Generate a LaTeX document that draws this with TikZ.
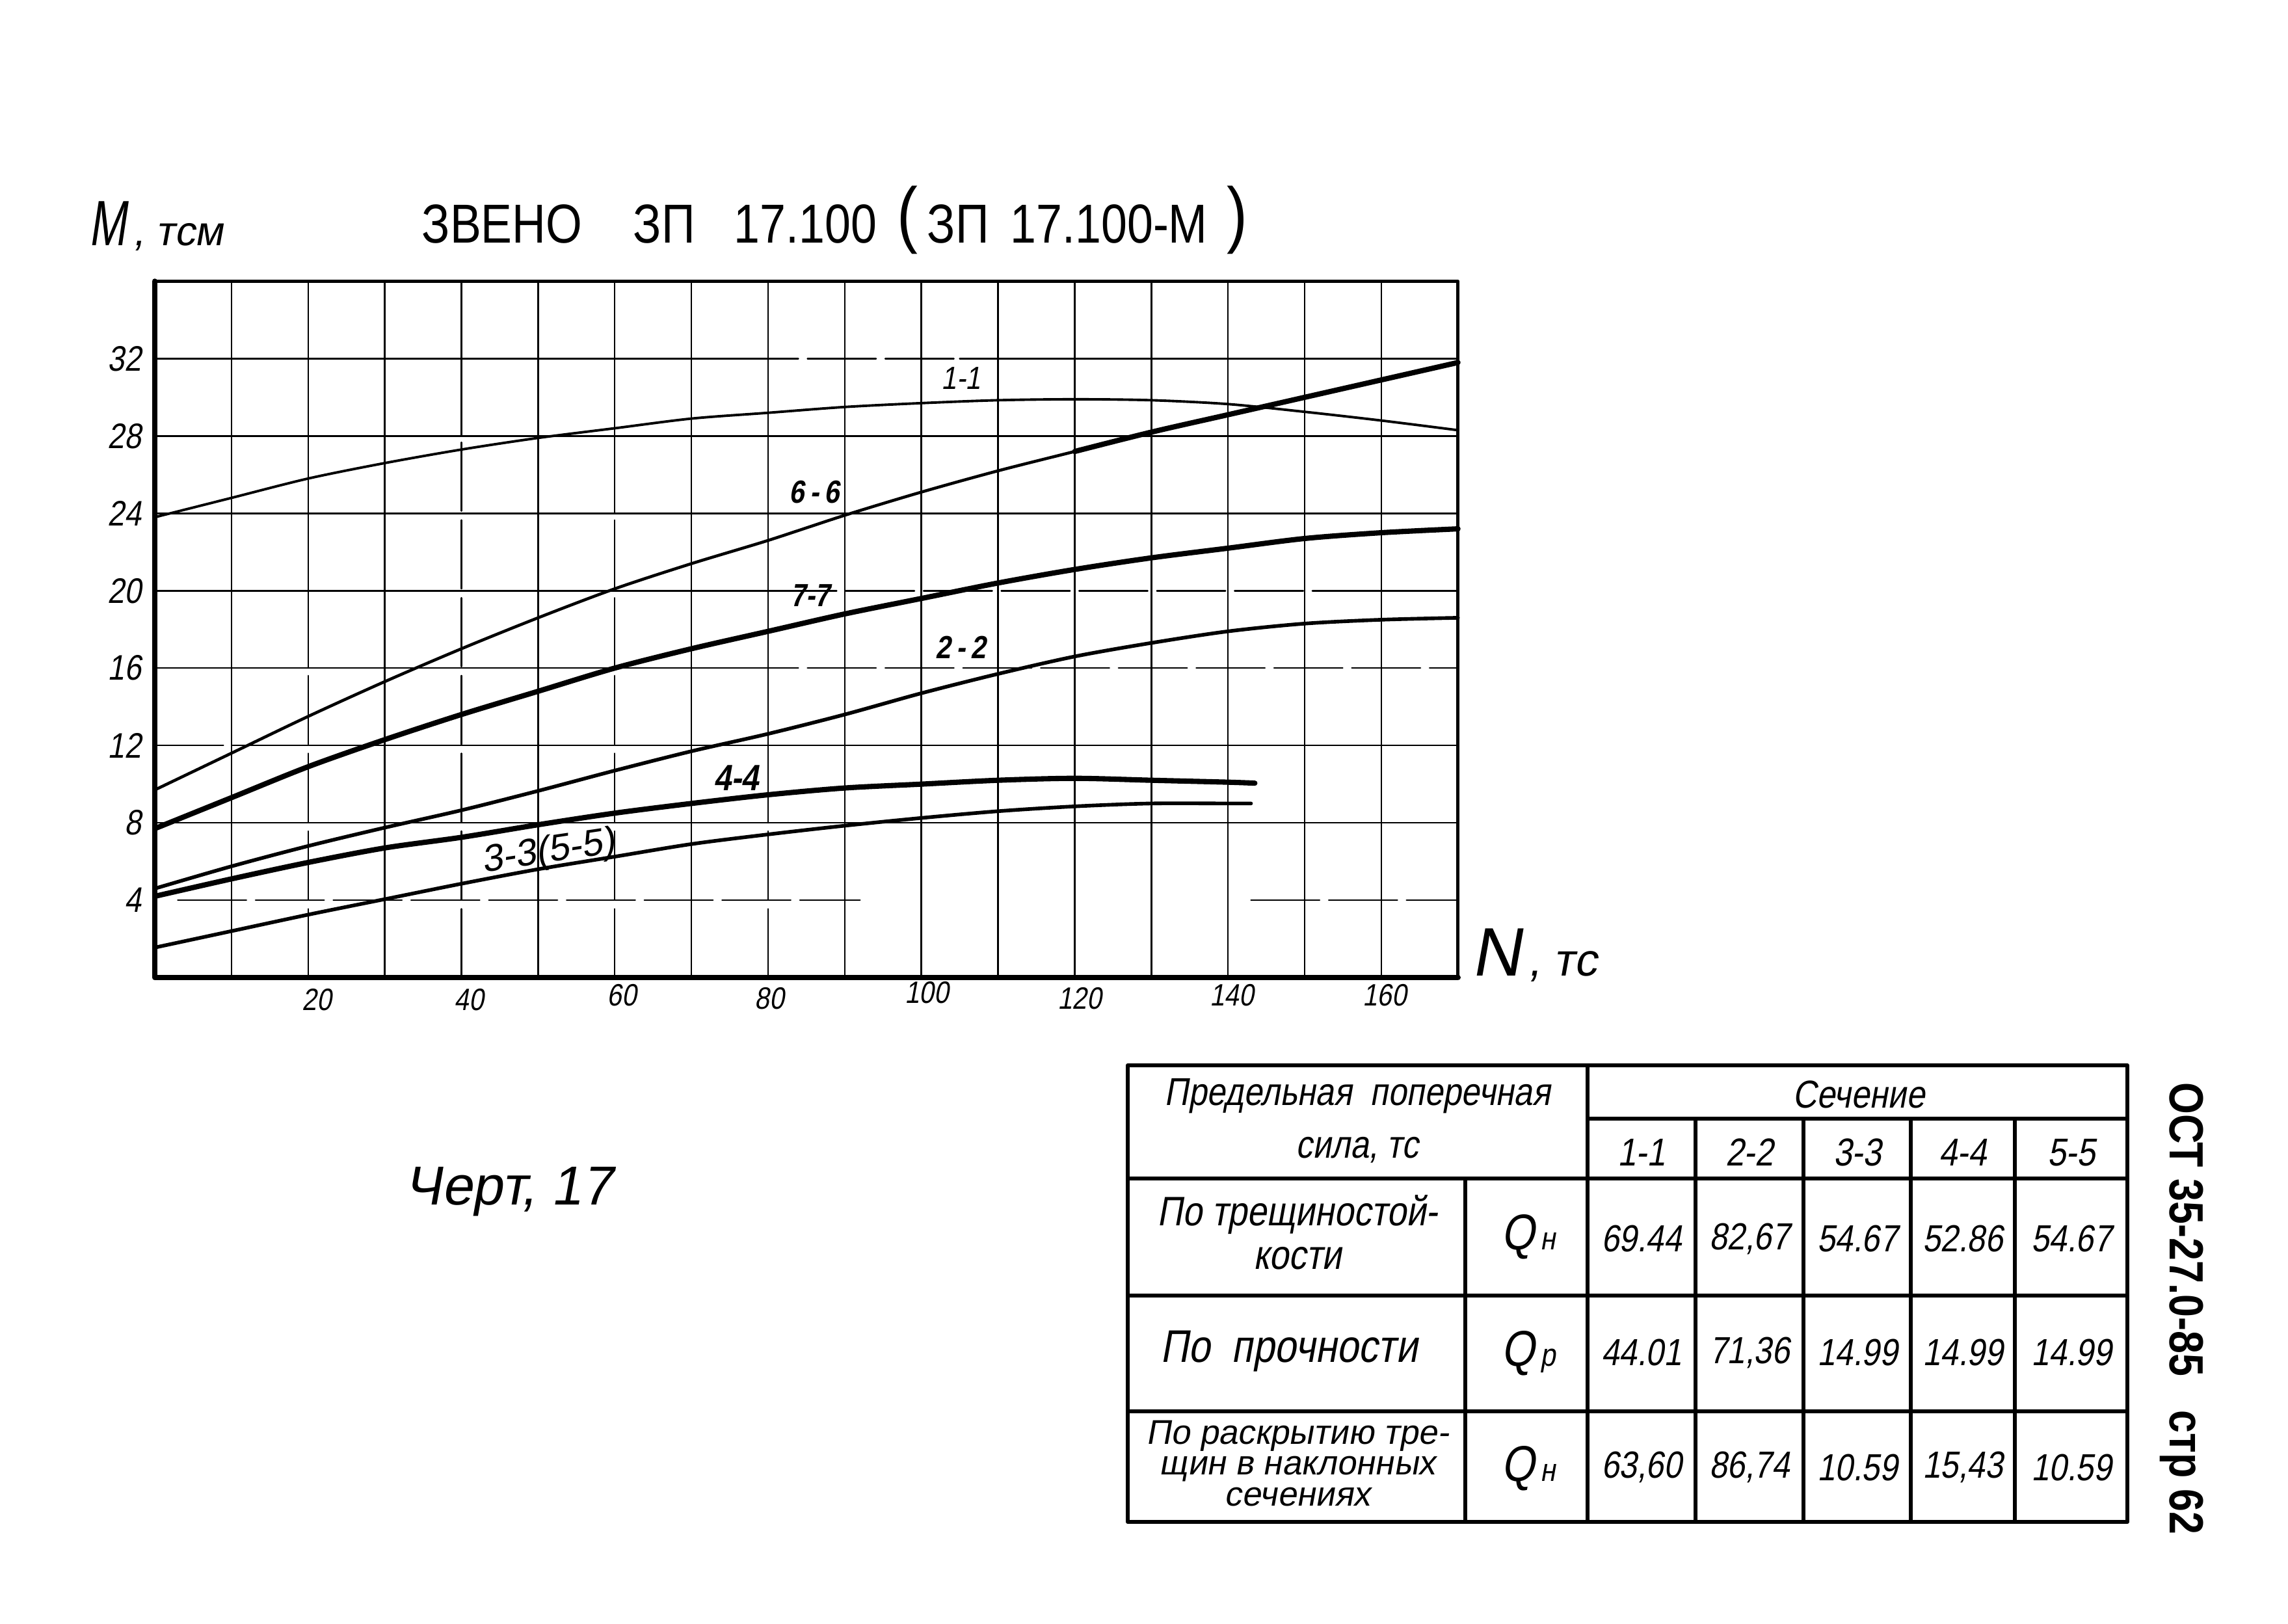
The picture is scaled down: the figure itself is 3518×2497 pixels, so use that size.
\documentclass[tikz,border=0pt]{standalone}
\usepackage{fontspec}
\setmainfont{Liberation Sans}
\newfontfamily\gost[FakeStretch=0.85]{Liberation Sans}
\newfontfamily\gosti[FakeStretch=0.85,FakeSlant=0.18]{Liberation Sans}
\newfontfamily\gostw[FakeSlant=0.18]{Liberation Sans}
\newfontfamily\gostn[FakeStretch=0.7,FakeSlant=0.15]{Liberation Sans}
\newcommand\fsz[1]{\fontsize{#1}{#1}\selectfont}
\tikzset{
 gridl/.style={line width=0.7pt},
 gridb/.style={line width=0.7pt, dash pattern=on 30pt off 4pt},
 chaxis/.style={line width=2.4pt},
 chframe/.style={line width=1.5pt},
 tline/.style={line width=1.7pt},
 cthin/.style={line width=1.1pt},
 cmed/.style={line width=1.6pt},
 cthick/.style={line width=2.3pt},
 ttl/.style={anchor=base west, inner sep=0pt, font=\gost\fsz{24}},
 ylab/.style={anchor=east, inner sep=0pt, font=\gosti\fsz{15.5}},
 xlab/.style={inner sep=0pt, font=\gosti\fsz{13.5}},
 clab/.style={inner sep=0pt, font=\gosti\bfseries\fsz{14}},
 num/.style={inner sep=0pt, font=\gosti\fsz{16.5}},
 hdr/.style={inner sep=0pt, font=\gosti\fsz{17}},
}
\begin{document}
\begin{tikzpicture}[x=0.01cm,y=-0.01cm,line cap=round,line join=round]
\useasboundingbox (0,0) rectangle (3518,2497);
\fill[white] (0,0) rectangle (3518,2497);

% ---------- title ----------
\node[ttl] (t1) at (648,373) {ЗВЕНО};
\node[ttl] (t2) at (973,373) {ЗП};
\node[ttl] (t3) at (1128,373) {17.100};
\node[ttl, font=\gost\fsz{32}] (t4) at (1379,367) {(};
\node[ttl] (t5) at (1425,373) {ЗП};
\node[ttl] (t6) at (1553,373) {17.100-М};
\node[ttl, font=\gost\fsz{32}] (t7) at (1886,367) {)};

% axis name M
\node[anchor=base west, inner sep=0pt] (mlab) at (136,377) {{\gostn\fsz{28}M}\kern3pt{\gostw\fsz{18}, тсм}};

% ---------- chart ----------
\begin{scope}[shift={(238,1503)}, x=0.1178cm, y=0.2972cm]
 % vertical grid
 \foreach \i in {10,30,50,70,90,100,110,120,130,140,150,160}
   \draw[gridl] (\i,0) -- (\i,36);
 \draw[gridb] (20,0) -- (20,16); \draw[gridl] (20,16) -- (20,36);
 \draw[gridb] (40,0) -- (40,28); \draw[gridl] (40,28) -- (40,36);
 \draw[gridb] (60,0) -- (60,24); \draw[gridl] (60,24) -- (60,36);
 \draw[gridb] (80,0) -- (80,8);  \draw[gridl] (80,8) -- (80,36);
 % horizontal grid
 \foreach \j in {8,24,28}
   \draw[gridl] (0,\j) -- (170,\j);
 \draw[gridl] (0,32) -- (75,32); \draw[gridb] (75,32) -- (105,32); \draw[gridl] (105,32) -- (170,32);
 \draw[gridl] (0,20) -- (80,20); \draw[gridb] (80,20) -- (155,20); \draw[gridl] (155,20) -- (170,20);
 \draw[gridl] (0,16) -- (75,16); \draw[gridb] (75,16) -- (170,16);
 \draw[gridb] (0,12) -- (12,12); \draw[gridl] (12,12) -- (170,12);
 \draw[gridb] (3,4) -- (92,4); \draw[gridb] (143,4) -- (170,4);
 % frame and axes
 \draw[chframe] (0,36) -- (170,36) -- (170,0);
 \draw[chaxis] (0,36) -- (0,0) -- (170,0);
 % y labels
 \foreach \j in {4,8,...,32}
   \node[ylab] (yl\j) at (-1.7,\j) {\j};

 % curve 1-1
 \draw[cthin] plot[smooth] coordinates {(0,23.8) (10,24.8) (20,25.8) (30,26.6) (40,27.3) (50,27.9) (60,28.4) (70,28.9) (80,29.2) (90,29.5) (100,29.7) (110,29.85) (120,29.9) (130,29.85) (140,29.65) (150,29.25) (160,28.8) (170,28.3)};
 % curve 6-6
 \draw[line width=1.3pt] plot[smooth] coordinates {(0,9.7) (10,11.6) (20,13.5) (30,15.3) (40,17.0) (50,18.6) (60,20.1) (70,21.4) (80,22.6) (90,23.9) (100,25.1) (110,26.2) (120,27.2) (130,28.2) (140,29.1) (150,30.0) (160,30.9) (170,31.8)};
 \draw[cthick] plot[smooth] coordinates {(120,27.2) (130,28.2) (140,29.1) (150,30.0) (160,30.9) (170,31.8)};
 % curve 7-7
 \draw[cthick] plot[smooth] coordinates {(0,7.7) (10,9.3) (20,10.9) (30,12.3) (40,13.6) (50,14.8) (60,16.0) (70,17.0) (80,17.9) (90,18.8) (100,19.6) (110,20.4) (120,21.1) (130,21.7) (140,22.2) (150,22.7) (160,23.0) (170,23.2)};
 % curve 2-2
 \draw[cmed] plot[smooth] coordinates {(0,4.6) (10,5.75) (20,6.8) (30,7.75) (40,8.65) (50,9.65) (60,10.7) (70,11.7) (80,12.6) (90,13.6) (100,14.7) (110,15.7) (120,16.6) (130,17.3) (140,17.9) (150,18.3) (160,18.5) (170,18.6)};
 % curve 4-4
 \draw[cthick] plot[smooth] coordinates {(0,4.2) (10,5.1) (20,5.95) (30,6.7) (40,7.25) (50,7.9) (60,8.5) (70,9.0) (80,9.45) (90,9.8) (100,10.0) (110,10.2) (120,10.3) (130,10.2) (140,10.1) (143.5,10.05)};
 % curve 3-3 (5-5)
 \draw[cmed] plot[smooth] coordinates {(0,1.55) (10,2.4) (20,3.25) (30,4.05) (40,4.85) (50,5.6) (60,6.25) (70,6.9) (80,7.4) (90,7.85) (100,8.25) (110,8.6) (120,8.85) (130,9.0) (140,9.0) (143,9.0)};
\end{scope}

% x labels
\node[xlab] (xl20) at (487,1537) {20};
\node[xlab] (xl40) at (721,1537) {40};
\node[xlab] (xl60) at (956,1530) {60};
\node[xlab] (xl80) at (1183,1535) {80};
\node[xlab] (xl100) at (1425,1526) {100};
\node[xlab] (xl120) at (1660,1535) {120};
\node[xlab] (xl140) at (1894,1530) {140};
\node[xlab] (xl160) at (2129,1530) {160};

% axis name N
\node[anchor=base west, inner sep=0pt] (nlab) at (2262,1500) {{\gostw\fsz{30}N}\kern3pt{\gostw\fsz{20}, тс}};

% curve labels
\node[clab, font=\gosti\fsz{14}] (l11) at (1478,582) {1-1};
\node[clab] (l66) at (1252,757) {6\,-\,6};
\node[clab] (l77) at (1246,916) {7-7};
\node[clab] (l22) at (1477,995) {2\,-\,2};
\node[clab, font=\gosti\bfseries\fsz{16}] (l44) at (1132,1196) {4-4};
\node[inner sep=0pt, font=\gostw\fsz{16.5}, rotate=8.5] (l33) at (843,1311) {3-3(5-5)};

% figure caption
\node[anchor=base west, inner sep=0pt, font=\gostw\fsz{24}] (cap) at (622,1852) {Черт, 17};

% ---------- table ----------
\coordinate (TL) at (1734,1638);
\coordinate (BR) at (3271,2340);
\draw[tline] (TL) rectangle (BR);
\draw[tline] (2441,1638) -- (2441,2340);
\foreach \x in {2607,2773,2938,3098}
  \draw[tline] (\x,1720) -- (\x,2340);
\draw[tline] (2253,1812) -- (2253,2340);
\draw[tline] (2441,1720) -- (3271,1720);
\foreach \y in {1812,1992,2170}
  \draw[tline] (1734,\y) -- (3271,\y);

% header texts
\node[hdr, align=center, font=\gosti\fontsize{17}{23}\selectfont] (hq) at (2087,1723) {Предельная\ \ поперечная\\сила, тс};
\node[hdr] (hsec) at (2858,1683) {Сечение};
\node[hdr] (h1) at (2524,1772) {1-1};
\node[hdr] (h2) at (2690,1772) {2-2};
\node[hdr] (h3) at (2856,1772) {3-3};
\node[hdr] (h4) at (3018,1772) {4-4};
\node[hdr] (h5) at (3185,1772) {5-5};

% row labels
\node[inner sep=0pt, align=center, font=\gosti\fontsize{18}{19}\selectfont] (r1) at (1995,1895) {По трещиностой-\\кости};
\node[inner sep=0pt, font=\gosti\fsz{20}] (r2) at (1982,2078) {По\ \ прочности};
\node[inner sep=0pt, align=center, font=\gostw\fontsize{15}{13.5}\selectfont] (r3) at (1995,2250) {По раскрытию тре-\\щин в наклонных\\сечениях};

\node[inner sep=0pt] (q1) at (2350,1902) {{\gosti\fsz{22}Q}{\gosti\fsz{14}\,н}};
\node[inner sep=0pt] (q2) at (2350,2081) {{\gosti\fsz{22}Q}{\gosti\fsz{14}\,р}};
\node[inner sep=0pt] (q3) at (2350,2258) {{\gosti\fsz{22}Q}{\gosti\fsz{14}\,н}};

% values
\node[num] (v11) at (2524,1905) {69.44};
\node[num] (v12) at (2690,1905) {82,67};
\node[num] (v13) at (2856,1905) {54.67};
\node[num] (v14) at (3018,1905) {52.86};
\node[num] (v15) at (3185,1905) {54.67};
\node[num] (v21) at (2524,2080) {44.01};
\node[num] (v22) at (2690,2080) {71,36};
\node[num] (v23) at (2856,2080) {14.99};
\node[num] (v24) at (3018,2080) {14.99};
\node[num] (v25) at (3185,2080) {14.99};
\node[num] (v31) at (2524,2256) {63,60};
\node[num] (v32) at (2690,2256) {86,74};
\node[num] (v33) at (2856,2256) {10.59};
\node[num] (v34) at (3018,2256) {15,43};
\node[num] (v35) at (3185,2256) {10.59};

% vertical side text
\node[inner sep=0pt, rotate=-90, font=\gost\bfseries\fsz{21}] (ost) at (3355,2012) {ОСТ 35-27.0-85\ \ \ стр 62};
\end{tikzpicture}
\end{document}
